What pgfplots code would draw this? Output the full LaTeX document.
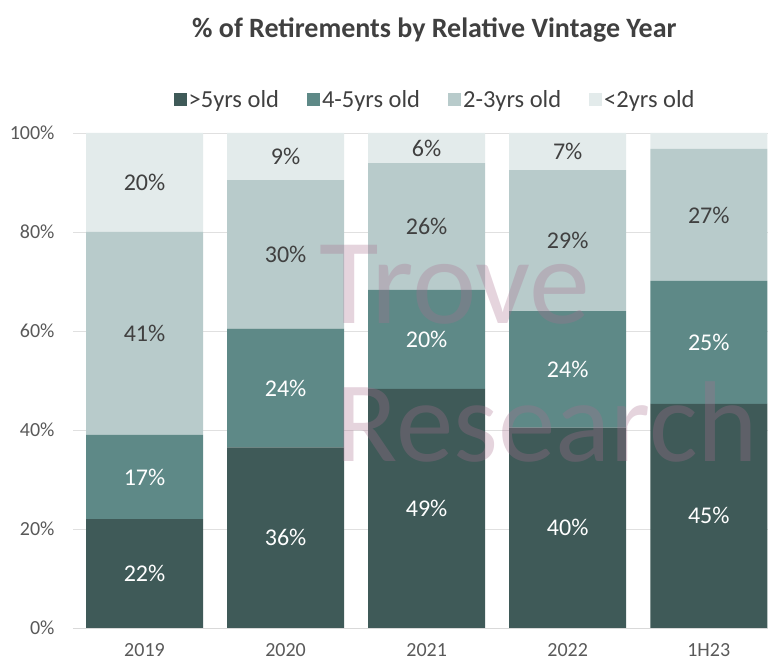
\documentclass[border=0pt]{standalone}
\usepackage{pgfplots}
\usepackage{pgfplotstable}
\pgfplotsset{compat=1.18}
\usepackage{fontspec}
\setmainfont{Carlito}
\definecolor{cA}{HTML}{3F5A58}
\definecolor{cB}{HTML}{5E8987}
\definecolor{cC}{HTML}{B8CBCB}
\definecolor{cD}{HTML}{E3EBEB}
\definecolor{txt}{HTML}{404040}
\definecolor{tick}{HTML}{595959}
\definecolor{wm}{HTML}{A8708F}

\pgfplotstableread{
x a la b lb c lc d ld
0 22   22\% 17   17\% 41   41\% 20   20\%
1 36.5 36\% 24   24\% 30   30\% 9.5  9\%
2 48.3 49\% 20   20\% 25.6 26\% 6.1  6\%
3 40.5 40\% 23.5 24\% 28.5 29\% 7.5  7\%
4 45.3 45\% 24.8 25\% 26.7 27\% 3.2  {}
}\datatable

\begin{document}
\begin{tikzpicture}
\begin{axis}[
  at={(0,0)}, anchor=south west,
  scale only axis, width=695pt, height=495pt,
  ybar stacked, bar width=117pt,
  xmin=-0.507, xmax=4.42, ymin=0, ymax=100,
  xtick={0,1,2,3,4}, xticklabels={2019,2020,2021,2022,1H23},
  ytick={0,20,40,60,80,100},
  yticklabel={\pgfmathprintnumber{\tick}\%},
  /pgf/number format/assume math mode=true,
  ticklabel style={font=\fontsize{20}{24}\selectfont, text=tick},
  major tick length=0pt,
  ymajorgrids, grid style={draw=black!12, line width=0.8pt},
  axis x line*=bottom, axis y line*=left,
  y axis line style={draw=none},
  x axis line style={draw=black!15, line width=0.8pt},
  xticklabel style={yshift=-12pt},
  yticklabel style={xshift=-15pt},
  point meta=explicit symbolic,
  nodes near coords={\pgfplotspointmeta},
  every node near coord/.append style={anchor=center, font=\fontsize{24}{28}\selectfont},
  legend columns=4,
  legend style={draw=none, fill=none, at={(0.521,1.067)}, anchor=center,
    font=\fontsize{24.5}{28}\selectfont, text=txt,
    /tikz/every even column/.append style={column sep=26pt}},
  legend image code/.code={\fill[#1] (0pt,-6.5pt) rectangle (13pt,6.5pt);},
  clip=false,
]
\addplot[fill=cA, draw=none, every node near coord/.append style={text=white}] table[x=x, y=a, meta=la] {\datatable};
\addplot[fill=cB, draw=none, every node near coord/.append style={text=white}] table[x=x, y=b, meta=lb] {\datatable};
\addplot[fill=cC, draw=none, every node near coord/.append style={text=txt}] table[x=x, y=c, meta=lc] {\datatable};
\addplot[fill=cD, draw=none, every node near coord/.append style={text=txt}] table[x=x, y=d, meta=ld] {\datatable};
\legend{>5yrs old, 4-5yrs old, 2-3yrs old, <2yrs old}
\node[font=\bfseries\fontsize{28}{32}\selectfont, text=txt] at (rel axis cs:0.52,1.208) {\% of Retirements by Relative Vintage Year};
\end{axis}
\node[font=\fontsize{122}{130}\selectfont, text=wm, opacity=0.3] at (382pt,343pt) {Trove};
\node[font=\fontsize{115}{125}\selectfont, text=wm, opacity=0.3] at (474pt,206pt) {Research};
\pgfresetboundingbox
\path (-73pt,-32pt) rectangle (695pt,628pt);
\end{tikzpicture}
\end{document}
